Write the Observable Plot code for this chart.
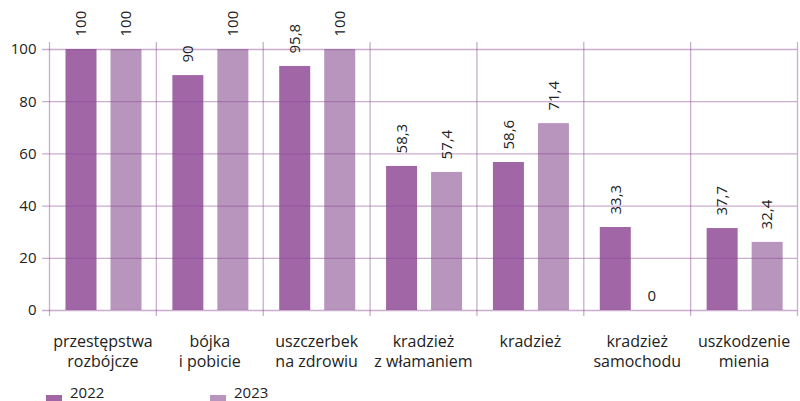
<!DOCTYPE html>
<html>
<head>
<meta charset="utf-8">
<script src="https://cdn.jsdelivr.net/npm/d3@7"></script>
<script src="https://cdn.jsdelivr.net/npm/@observablehq/plot@0.6"></script>
<style>
  html, body { margin: 0; padding: 0; background: #fff; overflow: hidden; }
  body { width: 800px; height: 401px; position: relative; font-family: "Open Sans", sans-serif; }
  #legend { position: absolute; left: 0; top: 385px; width: 800px; height: 15px; font-size: 15px; line-height: 15px; color: #222; }
  .item { position: absolute; top: 0; display: flex; align-items: flex-start; }
  .sw { width: 16px; height: 6px; margin-top: 10px; margin-right: 8px; }
</style>
</head>
<body>
<div id="chart"></div>
<div id="legend"></div>
<script>
const categories = [
  "przestępstwa\nrozbójcze",
  "bójka\ni pobicie",
  "uszczerbek\nna zdrowiu",
  "kradzież\nz włamaniem",
  "kradzież",
  "kradzież\nsamochodu",
  "uszkodzenie\nmienia"
];
const years = ["2022", "2023"];
// bar heights as drawn in the picture
const values2022 = [100, 90, 93.5, 55.2, 56.7, 31.8, 31.4];
const values2023 = [100, 100, 100, 52.9, 71.6, 0, 26.1];
// value labels as printed
const labels2022 = ["100", "90", "95,8", "58,3", "58,6", "33,3", "37,7"];
const labels2023 = ["100", "100", "100", "57,4", "71,4", "0", "32,4"];
const yTicks = [0, 20, 40, 60, 80, 100];
const colors = {"2022": "#a066a6", "2023": "#b795bc"};

const rows = [];
categories.forEach((c, i) => {
  rows.push({cat: c, year: "2022", v: values2022[i], label: labels2022[i]});
  rows.push({cat: c, year: "2023", v: values2023[i], label: labels2023[i]});
});
const r22 = rows.filter(d => d.year === "2022");
const r23 = rows.filter(d => d.year === "2023");

const W = 800, left = 49, right = 3;
const bw = (W - left - right) / categories.length;
const barW = 31;
const in22 = 16.5, in23 = 61.5;
const dx22 = in22 + barW / 2 - bw / 2;
const dx23 = in23 + barW / 2 - bw / 2;
const gridColor = "#8b4a92";
const gridStyle = {stroke: gridColor, strokeOpacity: 0.45, strokeWidth: 1.3};
const font = "'Open Sans', sans-serif";

const chart = Plot.plot({
  width: W,
  height: 386,
  marginLeft: left,
  marginRight: right,
  marginTop: 49,
  marginBottom: 76,
  style: {fontFamily: font, fontSize: "15px", background: "#fff", color: "#222"},
  x: {domain: categories, padding: 0, round: false, axis: null},
  y: {domain: [0, 100], ticks: yTicks, tickSize: 0, tickPadding: 13, label: null, tickFormat: d => String(d)},
  marks: [
    Plot.barY(r22, {x: "cat", y: "v", fill: colors["2022"], insetLeft: in22, insetRight: bw - in22 - barW}),
    Plot.barY(r23, {x: "cat", y: "v", fill: colors["2023"], insetLeft: in23, insetRight: bw - in23 - barW}),
    Plot.ruleY(yTicks, {...gridStyle, insetLeft: -7}),
    Plot.ruleX(categories, {x: d => d, y1: -2.3, y2: 102.7, dx: -bw / 2, ...gridStyle}),
    Plot.ruleX([categories[categories.length - 1]], {x: d => d, y1: -2.3, y2: 102.7, dx: bw / 2, ...gridStyle}),
    Plot.text(r22, {x: "cat", y: "v", text: "label", rotate: -90, textAnchor: "start", dx: dx22, dy: -13, fontSize: 15, fill: "#222"}),
    Plot.text(r23, {filter: d => d.v !== 0, x: "cat", y: "v", text: "label", rotate: -90, textAnchor: "start", dx: dx23, dy: -13, fontSize: 15, fill: "#222"}),
    Plot.text(r23, {filter: d => d.v === 0, x: "cat", y: "v", text: "label", dx: dx23 - 9, dy: -14, fontSize: 15, fill: "#222"}),
    Plot.text(categories, {x: d => d, text: d => d, frameAnchor: "bottom", lineAnchor: "top", dy: 22, fontSize: 16, lineHeight: 1.25, fill: "#222"})
  ]
});
document.getElementById("chart").appendChild(chart);

const legend = document.getElementById("legend");
const lx = [46, 210];
years.forEach((y, i) => {
  const it = document.createElement("div");
  it.className = "item";
  it.style.left = lx[i] + "px";
  const sw = document.createElement("div");
  sw.className = "sw";
  sw.style.background = colors[y];
  const tx = document.createElement("span");
  tx.textContent = y;
  it.appendChild(sw); it.appendChild(tx);
  legend.appendChild(it);
});
</script>
</body>
</html>
